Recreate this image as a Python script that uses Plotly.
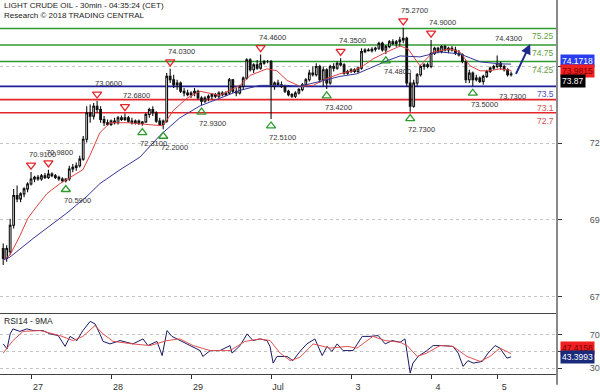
import plotly.graph_objects as go

# ---------------- data (hourly candles, bar index 0..146) ----------------
opens = [68.6, 68.3, 68.5, 69.3, 70.2, 70.1, 70.25, 70.4, 70.55, 70.7, 70.75, 70.7, 70.8, 70.75, 70.85, 70.8, 70.75, 70.7, 70.65, 70.7,
         71.0, 71.05, 71.1, 71.3, 71.9, 72.7, 72.6, 72.9, 72.8, 72.5, 72.4, 72.35, 72.45, 72.4, 72.55, 72.5, 72.55, 72.45, 72.4, 72.45,
         72.38, 72.42, 72.65, 72.8, 72.7, 72.45, 72.35, 72.45, 73.8, 73.7, 73.55, 73.6, 73.35, 73.3, 73.25, 73.3, 73.35, 73.15, 73.05, 73.15,
         73.2, 73.25, 73.2, 73.3, 73.25, 73.3, 73.7, 73.35, 73.3, 73.5, 73.75, 74.3, 74.0, 74.15, 74.05, 74.2, 74.25, 74.25, 73.5, 73.6,
         73.55, 73.5, 73.35, 73.25, 73.2, 73.3, 73.4, 73.55, 73.7, 73.9, 73.85, 74.1, 73.7, 74.0, 73.6, 74.1, 74.05, 74.2, 74.15, 73.9,
         73.95, 74.0, 73.95, 74.05, 74.55, 74.6, 74.58, 74.62, 74.65, 74.8, 74.6, 74.7, 74.85, 74.8, 74.85, 74.9, 74.95, 73.6, 72.9, 73.6,
         73.85, 74.1, 74.15, 74.1, 74.5, 74.65, 74.55, 74.7, 74.6, 74.65, 74.6, 74.5, 74.45, 74.25, 73.7, 73.9, 73.7, 73.75, 73.65, 73.8,
         73.95, 74.05, 74.1, 74.2, 74.1, 74.0, 73.85]
highs = [68.75, 68.7, 69.5, 70.4, 70.5, 70.3, 70.45, 70.6, 70.91, 70.8, 70.82, 70.85, 70.88, 70.98, 70.9, 70.85, 70.8, 70.75, 70.72, 71.1,
         71.15, 71.2, 71.4, 72.0, 72.9, 72.95, 73.0, 73.06, 72.9, 72.6, 72.5, 72.5, 72.55, 72.6, 72.62, 72.68, 72.6, 72.55, 72.5, 72.5,
         72.45, 72.7, 72.85, 72.9, 72.75, 72.55, 72.5, 73.9, 74.03, 73.85, 73.7, 73.65, 73.45, 73.4, 73.35, 73.45, 73.4, 73.2, 73.2, 73.25,
         73.3, 73.3, 73.35, 73.35, 73.35, 73.75, 73.72, 73.45, 73.55, 73.8, 74.35, 74.35, 74.2, 74.3, 74.46, 74.3, 74.3, 74.3, 73.65, 73.7,
         73.65, 73.55, 73.4, 73.3, 73.35, 73.45, 73.6, 73.75, 74.0, 74.1, 74.2, 74.15, 74.1, 74.05, 74.15, 74.2, 74.25, 74.35, 74.2, 74.0,
         74.05, 74.05, 74.1, 74.65, 74.65, 74.65, 74.68, 74.7, 74.85, 74.85, 74.75, 74.9, 74.92, 74.9, 75.0, 75.27, 75.0, 73.9, 73.7, 73.9,
         74.15, 74.2, 74.22, 74.9, 74.7, 74.7, 74.75, 74.75, 74.7, 74.72, 74.7, 74.6, 74.5, 74.3, 74.0, 73.95, 73.85, 73.8, 73.85, 74.0,
         74.1, 74.15, 74.43, 74.25, 74.15, 74.05, 73.95]
lows = [68.1, 68.2, 68.4, 69.2, 70.0, 70.0, 70.15, 70.3, 70.5, 70.6, 70.65, 70.65, 70.7, 70.7, 70.75, 70.7, 70.65, 70.6, 70.59, 70.65,
        70.9, 70.95, 71.05, 71.25, 71.8, 72.4, 72.5, 72.7, 72.4, 72.3, 72.3, 72.3, 72.35, 72.35, 72.45, 72.45, 72.4, 72.35, 72.35, 72.33,
        72.31, 72.4, 72.55, 72.6, 72.4, 72.3, 72.2, 72.4, 73.6, 73.45, 73.4, 73.3, 73.2, 73.2, 73.15, 73.2, 73.1, 72.93, 73.0, 73.05,
        73.1, 73.15, 73.15, 73.2, 73.2, 73.25, 73.3, 73.2, 73.25, 73.4, 73.7, 73.95, 73.9, 74.0, 74.0, 74.15, 74.2, 72.51, 73.4, 73.5,
        73.45, 73.3, 73.2, 73.15, 73.15, 73.25, 73.35, 73.5, 73.65, 73.8, 73.8, 73.6, 73.5, 73.42, 73.55, 73.95, 74.0, 74.1, 73.85, 73.85,
        73.9, 73.9, 73.9, 74.0, 74.5, 74.55, 74.52, 74.55, 74.6, 74.55, 74.48, 74.65, 74.75, 74.7, 74.7, 74.8, 73.5, 72.73, 72.85, 73.5,
        73.8, 74.0, 74.05, 74.05, 74.45, 74.5, 74.5, 74.55, 74.5, 74.55, 74.45, 74.4, 74.2, 73.6, 73.6, 73.5, 73.65, 73.6, 73.55, 73.75,
        73.9, 74.0, 74.05, 74.0, 73.95, 73.8, 73.8]
closes = [68.3, 68.6, 69.3, 70.2, 70.1, 70.25, 70.4, 70.55, 70.7, 70.75, 70.7, 70.8, 70.75, 70.85, 70.8, 70.75, 70.7, 70.65, 70.7, 71.0,
          71.05, 71.1, 71.3, 71.9, 72.7, 72.6, 72.9, 72.8, 72.5, 72.4, 72.35, 72.45, 72.4, 72.55, 72.5, 72.55, 72.45, 72.4, 72.45, 72.38,
          72.42, 72.65, 72.8, 72.7, 72.45, 72.35, 72.45, 73.8, 73.7, 73.55, 73.6, 73.35, 73.3, 73.25, 73.3, 73.35, 73.15, 73.05, 73.15, 73.2,
          73.25, 73.2, 73.3, 73.25, 73.3, 73.7, 73.35, 73.3, 73.5, 73.75, 74.3, 74.0, 74.15, 74.05, 74.2, 74.25, 74.25, 73.5, 73.6, 73.55,
          73.5, 73.35, 73.25, 73.2, 73.3, 73.4, 73.55, 73.7, 73.9, 73.85, 74.1, 73.7, 74.0, 73.6, 74.1, 74.05, 74.2, 74.15, 73.9, 73.95,
          74.0, 73.95, 74.05, 74.55, 74.6, 74.58, 74.62, 74.65, 74.8, 74.6, 74.7, 74.85, 74.8, 74.85, 74.9, 74.95, 73.6, 72.9, 73.6, 73.85,
          74.1, 74.15, 74.1, 74.5, 74.65, 74.55, 74.7, 74.6, 74.65, 74.6, 74.5, 74.45, 74.25, 73.7, 73.9, 73.7, 73.75, 73.65, 73.8, 73.95,
          74.05, 74.1, 74.2, 74.1, 74.0, 73.85, 73.87]
bar_index = list(range(len(closes)))

# moving averages (bar position, price)
ma_fast_bar = [0, 1.96, 4.83, 7.13, 9.72, 12.6, 16.3, 19.2, 22.9, 24.96, 27.8, 30.7, 35.9, 42.2, 46.0, 48.8, 52.8, 56.6, 62.3, 68.1,
               71.0, 75.8, 78.7, 81.6, 85.3, 89.1, 93.1, 96.8, 100.6, 103.5, 106.3, 110.3, 114.1, 116.4, 119.8, 123.6, 128.5, 131.3,
               134.2, 137.1, 139.9, 142.8, 146]
ma_fast_val = [68.25, 68.40, 68.99, 69.52, 69.88, 70.26, 70.56, 70.74, 70.98, 71.42, 72.10, 72.40, 72.40, 72.34, 72.31, 72.76, 73.14,
               73.35, 73.23, 73.53, 73.83, 74.03, 73.97, 73.68, 73.50, 73.53, 73.74, 73.88, 73.97, 74.12, 74.33, 74.54, 74.72, 74.63,
               74.12, 74.54, 74.63, 74.54, 74.12, 73.97, 73.97, 74.03, 73.9815]
ma_slow_bar = [0, 1.96, 8.57, 13.5, 18.3, 24.1, 27.8, 33.6, 39.3, 45.1, 50.8, 56.6, 62.3, 68.1, 73.8, 77.6, 81.6, 85.3, 91.1, 96.8,
               101.7, 106.3, 110.3, 114.1, 119.8, 125.6, 131.3, 137.1, 142.8, 146]
ma_slow_val = [68.25, 68.34, 68.90, 69.29, 69.67, 70.18, 70.56, 70.98, 71.36, 72.02, 72.55, 72.91, 73.14, 73.38, 73.53, 73.53, 73.53,
               73.50, 73.65, 73.80, 73.88, 74.09, 74.27, 74.42, 74.39, 74.54, 74.48, 74.24, 74.18, 74.1718]

# RSI(14) and its 9-period MA (bar position, value)
rsi_bar = [0, 1.1, 2, 2.8, 4.8, 6.8, 8.6, 11.4, 13.5, 15.8, 17.8, 19.2, 21.2, 22.9, 25, 26.4, 27.8, 28.7, 30.7, 33.6, 37.3, 40.2,
           41.6, 44.2, 45.7, 47.1, 48.5, 50.8, 53.7, 56.6, 57.4, 59.5, 62.3, 65.2, 65.8, 68.1, 70.1, 71.8, 73.8, 75.8, 76.7, 77.6,
           78.7, 81.6, 83.3, 85.3, 87.3, 89.6, 91.7, 93.1, 94.5, 96, 97.7, 100.6, 103.2, 105.5, 107.8, 109.8, 111.8, 114.1, 115.5,
           116.4, 117, 117.8, 119.3, 121.8, 123.6, 126.5, 129.3, 130.8, 132.2, 133.6, 135.1, 137.7, 139.4, 141.4, 142.8, 144.8, 146]
rsi_val = [59, 53, 71, 77, 74, 77, 75, 75, 71, 69, 56, 68, 63, 75, 86, 83, 71, 62, 59, 63, 59, 65, 57, 62, 45, 75, 68, 63, 57, 51,
           44, 51, 51, 57, 48, 57, 71, 63, 65, 63, 56, 36, 44, 44, 39, 50, 59, 65, 45, 56, 50, 59, 51, 51, 68, 68, 69, 59, 63, 61, 65,
           39, 24, 36, 44, 51, 57, 57, 56, 48, 32, 39, 36, 38, 48, 57, 54, 42, 43.3993]
rsi_ma_bar = [0, 2.8, 5.7, 10.6, 16.3, 20.1, 22.9, 26.4, 28.7, 31.6, 37.3, 42.2, 47.1, 50.8, 54.6, 59.5, 65.2, 69.5, 73.8, 76.7, 79.6,
              82.5, 85.3, 89.1, 94, 98.9, 101.7, 106.3, 109.8, 114.1, 116.1, 119, 121.8, 125.6, 129.3, 133.3, 137.1, 139.9, 142.8, 146]
rsi_ma_val = [48, 63, 74, 75, 69, 63, 68, 81, 71, 62, 59, 57, 63, 65, 57, 51, 51, 62, 65, 63, 48, 39, 43, 59, 54, 56, 54, 68, 63, 61,
              57, 44, 48, 57, 56, 44, 38, 44, 54, 47.4158]

# pivots
pivot_high_bar = [8, 13, 27, 35, 48, 74, 97, 115, 123]
pivot_high_val = [70.91, 70.98, 73.06, 72.68, 74.03, 74.46, 74.35, 75.27, 74.90]
pivot_low_bar = [18, 40, 46, 57, 77, 93, 110, 117, 135]
pivot_low_val = [70.59, 72.31, 72.20, 72.93, 72.51, 73.42, 74.48, 72.73, 73.50]
extra_high_bar, extra_high_val = [142], [74.43]
extra_low_bar, extra_low_val = [143], [73.73]

# key levels
levels_green = [75.25, 74.75, 74.25]
levels_blue = [73.5]
levels_red = [73.1, 72.7]

# forecast arrow (bar, price)
arrow_from = (147.2, 73.83)
arrow_to = (151.5, 74.78)

day_tick_bars = [8, 31, 54, 77, 100, 123, 142]
day_tick_labels = ["27", "28", "29", "Jul", "3", "4", "5"]

price_tick_vals = [74.093, 71.778, 69.464, 67.149]
price_tick_text = ["", "72", "69", "67"]   # the 74 label is hidden under the value boxes
rsi_tick_vals = [70, 50, 30]
rsi_tick_text = ["70", "", "30"]

last_price = 73.87

# ---------------- layout constants ----------------
X_RANGE = [-0.92, 159.2]
Y_RANGE = [66.645, 76.11]
RSI_RANGE = [22.94, 95.88]
PLOT_H = 381.0
SPLIT = 62.0 / PLOT_H
PX_PER_UNIT = (1 - SPLIT) * PLOT_H / (Y_RANGE[1] - Y_RANGE[0])
TRI_OFF = 7.0 / PX_PER_UNIT

GREEN = "#2f9a2f"
NAVY = "#1f1f96"
RED = "#e3262b"
FONT = "Liberation Sans, Arial, sans-serif"

fig = go.Figure()

fig.add_trace(go.Candlestick(
    x=bar_index, open=opens, high=highs, low=lows, close=closes,
    increasing=dict(line=dict(color="#111111", width=1.1), fillcolor="#ffffff"),
    decreasing=dict(line=dict(color="#111111", width=1.1), fillcolor="#111111"),
    whiskerwidth=0, xaxis="x", yaxis="y", showlegend=False, hoverinfo="skip"))

fig.add_trace(go.Scatter(x=ma_fast_bar, y=ma_fast_val, mode="lines", line=dict(color="#e04040", width=1),
                         xaxis="x", yaxis="y", showlegend=False, hoverinfo="skip"))
fig.add_trace(go.Scatter(x=ma_slow_bar, y=ma_slow_val, mode="lines", line=dict(color="#35359a", width=1),
                         xaxis="x", yaxis="y", showlegend=False, hoverinfo="skip"))

fig.add_trace(go.Scatter(x=pivot_high_bar, y=[v + TRI_OFF for v in pivot_high_val], mode="markers",
                         marker=dict(symbol="triangle-down-open", size=8, color=RED, line=dict(width=1.3, color=RED)),
                         xaxis="x", yaxis="y", showlegend=False, hoverinfo="skip"))
fig.add_trace(go.Scatter(x=pivot_low_bar, y=[v - TRI_OFF for v in pivot_low_val], mode="markers",
                         marker=dict(symbol="triangle-up-open", size=8, color=GREEN, line=dict(width=1.3, color=GREEN)),
                         xaxis="x", yaxis="y", showlegend=False, hoverinfo="skip"))

fig.add_trace(go.Scatter(x=rsi_bar, y=rsi_val, mode="lines", line=dict(color="#1a1a66", width=1),
                         xaxis="x2", yaxis="y2", showlegend=False, hoverinfo="skip"))
fig.add_trace(go.Scatter(x=rsi_ma_bar, y=rsi_ma_val, mode="lines", line=dict(color="#e05050", width=1),
                         xaxis="x2", yaxis="y2", showlegend=False, hoverinfo="skip"))

shapes = []
annotations = []
for levels, col, tcol in [(levels_green, GREEN, "#5f9f45"), (levels_blue, NAVY, "#4d4dc4"), (levels_red, RED, "#d65050")]:
    for lv in levels:
        shapes.append(dict(type="line", xref="paper", x0=0, x1=1, yref="y", y0=lv, y1=lv,
                           line=dict(color=col, width=1.6), layer="below"))
        annotations.append(dict(xref="paper", x=1, xanchor="right", xshift=-1, yref="y", y=lv, yanchor="top", yshift=-1,
                                text=f"{lv:g}", showarrow=False, font=dict(family=FONT, size=8.5, color=tcol)))

# right border line (extends through the date row)
shapes.append(dict(type="line", xref="paper", x0=1, x1=1, yref="paper", y0=-11 / PLOT_H, y1=1,
                   line=dict(color="#8a8a8a", width=2)))

for b, v in zip(pivot_high_bar + extra_high_bar, pivot_high_val + extra_high_val):
    annotations.append(dict(xref="x", yref="y", x=b, y=v, xanchor="left", xshift=-4, yanchor="middle", yshift=17.5,
                            text=f"{v:.4f}", showarrow=False, font=dict(family=FONT, size=7.5, color="#333333")))
for b, v in zip(pivot_low_bar + extra_low_bar, pivot_low_val + extra_low_val):
    annotations.append(dict(xref="x", yref="y", x=b, y=v, xanchor="left", xshift=-4, yanchor="middle", yshift=-18,
                            text=f"{v:.4f}", showarrow=False, font=dict(family=FONT, size=7.5, color="#333333")))

# forecast arrow
annotations.append(dict(xref="x", yref="y", x=arrow_to[0], y=arrow_to[1], axref="x", ayref="y",
                        ax=arrow_from[0], ay=arrow_from[1], text="", showarrow=True, arrowhead=2, arrowsize=1,
                        arrowwidth=2, arrowcolor="#1c2a8c"))

# titles
annotations.append(dict(xref="paper", yref="paper", x=0, xshift=2, y=1, yshift=1, xanchor="left", yanchor="top",
                        text="LIGHT CRUDE OIL - 30min - 04:35:24 (CET)", showarrow=False,
                        font=dict(family=FONT, size=8, color="#222222")))
annotations.append(dict(xref="paper", yref="paper", x=0, xshift=2, y=1, yshift=-9, xanchor="left", yanchor="top",
                        text="Research \u00a9 2018 TRADING CENTRAL", showarrow=False,
                        font=dict(family=FONT, size=8, color="#222222")))
annotations.append(dict(xref="paper", yref="paper", x=0, xshift=2, y=SPLIT, yshift=-1, xanchor="left", yanchor="top",
                        text="RSI14 - 9MA", showarrow=False, font=dict(family=FONT, size=8.5, color="#222222")))

# value boxes on the right
def box(yref, y, text, bg, fg, yshift):
    return dict(xref="paper", x=1, xanchor="left", xshift=3, yref=yref, y=y, yanchor="middle", yshift=yshift,
                text=text, showarrow=False, bgcolor=bg, borderpad=1,
                font=dict(family=FONT, size=8.5, color=fg))

annotations.append(box("y", ma_slow_val[-1], f"{ma_slow_val[-1]:.4f}", "#2a3cf0", "#ffffff", 3))
annotations.append(box("y", ma_fast_val[-1], f"{ma_fast_val[-1]:.4f}", "#f02020", "#7a0000", -1))
annotations.append(box("y", last_price, f"{last_price:.2f}", "#000000", "#ffffff", -7))
annotations.append(box("y2", rsi_ma_val[-1], f"{rsi_ma_val[-1]:.4f}", "#f02020", "#7a0000", 6))
annotations.append(box("y2", rsi_val[-1], f"{rsi_val[-1]:.4f}", "#1a2a7a", "#ffffff", 0))

fig.update_layout(
    width=600, height=392, margin=dict(l=0, r=43, t=0, b=11),
    paper_bgcolor="white", plot_bgcolor="white", showlegend=False,
    font=dict(family=FONT),
    shapes=shapes, annotations=annotations,
    xaxis=dict(domain=[0, 1], anchor="y", range=X_RANGE, showticklabels=False, showgrid=False, zeroline=False,
               showline=True, linecolor="#444444", linewidth=1, ticks="", rangeslider=dict(visible=False)),
    yaxis=dict(domain=[SPLIT, 1], anchor="x", side="right", range=Y_RANGE, tickvals=price_tick_vals,
               ticktext=price_tick_text, showgrid=True, gridcolor="#c4c4c4", griddash="dot", gridwidth=1,
               zeroline=False, showline=False, ticks="outside", ticklen=4, tickcolor="#333333",
               tickfont=dict(family=FONT, size=9, color="#555555"), ticklabelstandoff=26),
    xaxis2=dict(domain=[0, 1], anchor="y2", range=X_RANGE, matches="x", tickvals=day_tick_bars,
                ticktext=day_tick_labels, ticks="outside", ticklen=4, tickcolor="#333333", showline=True,
                linecolor="#444444", linewidth=1, showgrid=False, zeroline=False,
                tickfont=dict(family=FONT, size=9, color="#333333"), ticklabelshift=7, ticklabelstandoff=0),
    yaxis2=dict(domain=[0, SPLIT], anchor="x2", side="right", range=RSI_RANGE, tickvals=rsi_tick_vals,
                ticktext=rsi_tick_text, showgrid=True, gridcolor="#c4c4c4", griddash="dot", gridwidth=1,
                zeroline=False, showline=False, ticks="outside", ticklen=4, tickcolor="#333333",
                tickfont=dict(family=FONT, size=9, color="#555555"), ticklabelstandoff=26),
)

fig.write_html("out.html")
